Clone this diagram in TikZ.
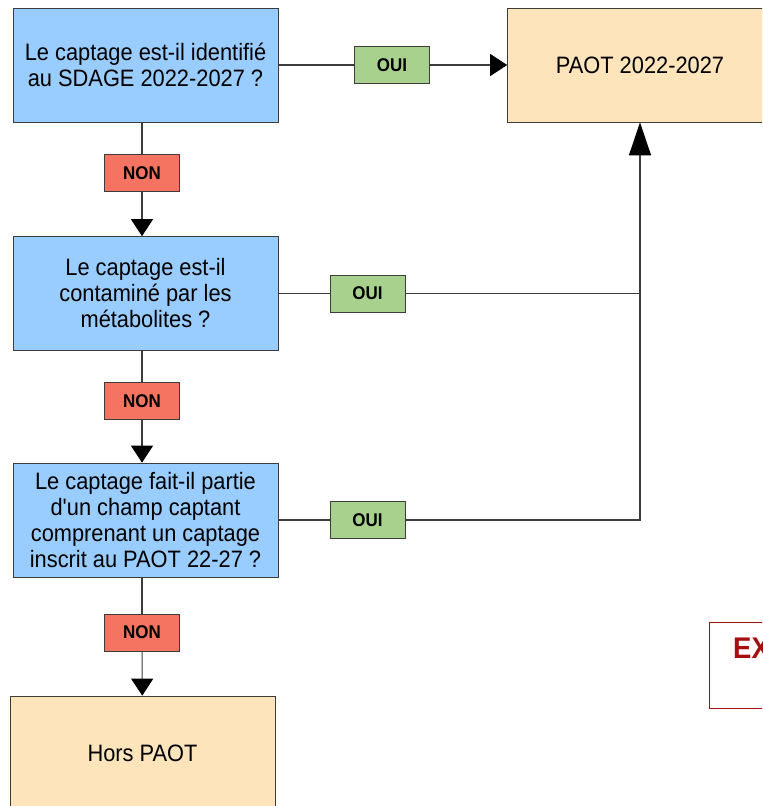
\documentclass[tikz,border=0pt]{standalone}
\usepackage{fontspec}
\setmainfont{Liberation Sans}
\newfontfamily\narrowfont{Liberation Sans}[FakeStretch=0.92]
\usetikzlibrary{arrows.meta}
\definecolor{qblue}{HTML}{99CCFF}
\definecolor{rbeige}{HTML}{FDE4BB}
\definecolor{ouigreen}{HTML}{A9D18E}
\definecolor{nonred}{HTML}{F47461}
\definecolor{exred}{HTML}{A50F0F}
\definecolor{linegray}{HTML}{3C3C3C}

\tikzset{
  question/.style={draw=linegray,fill=qblue,minimum width=5.3cm,minimum height=2.28cm,
    inner sep=2pt,align=center,font=\narrowfont\fontsize{13.5}{14.8}\selectfont},
  result/.style={question,fill=rbeige},
  oui/.style={draw=linegray,fill=ouigreen,minimum width=1.5cm,minimum height=0.74cm,
    inner sep=1pt,font=\narrowfont\bfseries\fontsize{10.5}{12}\selectfont},
  non/.style={oui,fill=nonred},
  link/.style={draw=linegray,line width=0.6pt},
  fleche/.style={link,-{Triangle[length=0.34cm,width=0.44cm,black]}},
  longfleche/.style={link,-{Triangle[length=0.66cm,width=0.44cm,black]}},
}

\begin{document}
\begin{tikzpicture}[x=0.02cm,y=-0.02cm]
\useasboundingbox (0,0) rectangle (762,806);
\clip (0,0) rectangle (762,806);

% questions
\node[question] (q1) at (145.5,65) {Le captage est-il identifié\\au SDAGE 2022-2027 ?};
\node[question] (q2) at (145.5,293.5) {Le captage est-il\\contaminé par les\\métabolites ?};
\node[question] (q3) at (145.5,520) {Le captage fait-il partie\\d'un champ captant\\comprenant un captage\\inscrit au PAOT 22-27 ?};

% resultats
\node[result] (paot) at (640,65) {PAOT 2022-2027};
\node[result] (hors) at (142.5,753) {Hors PAOT};

% reponses
\node[oui] (o1) at (392,65) {OUI};
\node[oui] (o2) at (367.5,293.5) {OUI};
\node[oui] (o3) at (367.5,520) {OUI};
\node[non] (n1) at (142,173) {NON};
\node[non] (n2) at (142,401) {NON};
\node[non] (n3) at (142,632.5) {NON};

% encadre rouge
\node[draw=exred,line width=0.6pt,fill=white,minimum width=4cm,minimum height=1.72cm,
  anchor=north west] (exbox) at (709,622) {};
\node[anchor=west,text=exred,font=\narrowfont\bfseries\fontsize{17}{20}\selectfont]
  (exlbl) at (727,648) {EX};

% liens
\draw[link] (q1) -- (o1);
\draw[fleche] (o1) -- (paot);
\draw[link] (q1.south -| n1) -- (n1);
\draw[fleche] (n1) -- (q2.north -| n1);
\draw[link] (q2) -- (o2);
\draw[longfleche] (o2) -| (paot);
\draw[link] (q2.south -| n2) -- (n2);
\draw[fleche] (n2) -- (q3.north -| n2);
\draw[link] (q3) -- (o3);
\draw[link] (o3) -| (o2 -| paot);
\draw[link] (q3.south -| n3) -- (n3);
\draw[fleche] (n3) -- (hors);
\end{tikzpicture}
\end{document}
